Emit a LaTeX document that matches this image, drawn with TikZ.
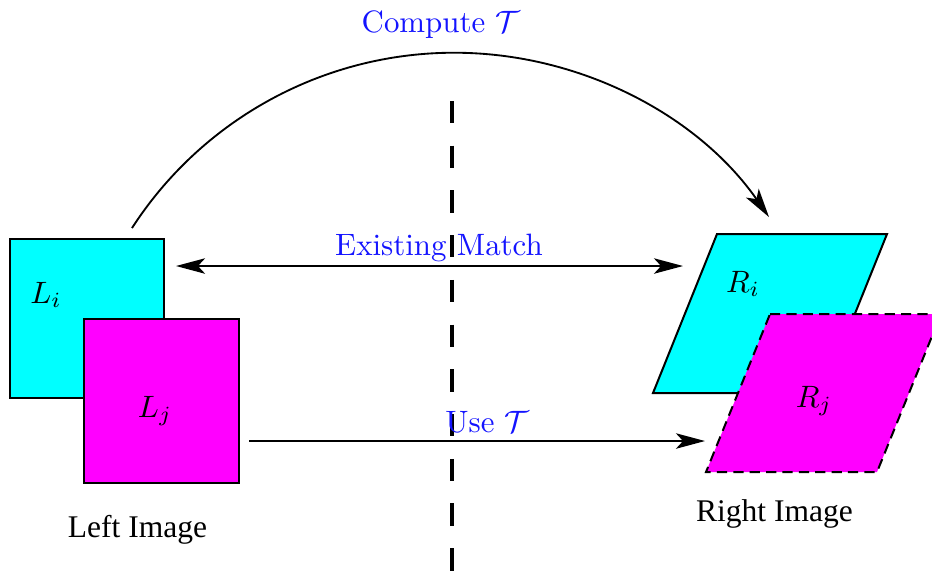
\documentclass[tikz,border=0pt]{standalone}
\usepackage{fontspec}
\newfontfamily\timesfont{Liberation Serif}
\usetikzlibrary{arrows.meta}
\definecolor{rgbcyan}{RGB}{0,255,255}
\definecolor{rgbmagenta}{RGB}{255,0,255}
\definecolor{lblblue}{RGB}{20,20,255}
\tikzset{
  shapeline/.style={line width=0.65pt},
  conn/.style={line width=0.6pt, -{Stealth[length=9.4pt, width=5pt, inset=2.3pt]}},
  biconn/.style={line width=0.6pt, {Stealth[length=9.4pt, width=5pt, inset=2.3pt]}-{Stealth[length=9.4pt, width=5pt, inset=2.3pt]}},
  bluelbl/.style={text=lblblue, anchor=base, inner sep=0pt},
  imglbl/.style={anchor=base, inner sep=0pt, font=\fontsize{10.2}{12}\timesfont},
  mathlbl/.style={inner sep=0pt, font=\normalsize},
}
\begin{document}
\begin{tikzpicture}[x=0.3236pt, y=-0.3236pt]
\useasboundingbox (0,0) rectangle (932,573);
% left image
\filldraw[shapeline, fill=rgbcyan] (10,239) rectangle (164,398);
\node[mathlbl] (Li) at (46,295) {$L_i$};
\filldraw[shapeline, fill=rgbmagenta] (84,319) rectangle (239,483);
\node[mathlbl] (Lj) at (155,411) {$L_j$};
% right image
\filldraw[shapeline, fill=rgbcyan] (717,234) -- (887,234) -- (823,393) -- (653,393) -- cycle;
\node[mathlbl] (Ri) at (743,284) {$R_i$};
\filldraw[shapeline, fill=rgbmagenta, dash pattern=on 3.3pt off 2pt] (770,314) -- (941,314) -- (877,472) -- (706,472) -- cycle;
\node[mathlbl] (Rj) at (814,401) {$R_j$};
% dividing line
\coordinate (divT) at (452,101);
\coordinate (divB) at (452,573);
\draw[line width=1.3pt, dash pattern=on 7.22pt off 7.25pt] (divT) -- (divB);
% arc
\coordinate (arcS) at (132,228);
\draw[conn] (arcS) arc[start angle=147.1, end angle=34.87, radius=124.17pt] coordinate (arcE);
\node[bluelbl] (compute) at (441,32) {Compute $\mathcal{T}$};
% existing match
\coordinate (emL) at (176,266);
\coordinate (emR) at (683,266);
\draw[biconn] (emL) -- (emR);
\node[bluelbl] (exist) at (439,255) {Existing Match};
% use T
\coordinate (utL) at (249,441);
\coordinate (utR) at (705,441);
\draw[conn] (utL) -- (utR);
\node[bluelbl] (use) at (487.5,432) {Use $\mathcal{T}$};
% captions
\node[imglbl] (left) at (137.5,537) {Left Image};
\node[imglbl] (right) at (774.5,521) {Right Image};
\end{tikzpicture}
\end{document}
